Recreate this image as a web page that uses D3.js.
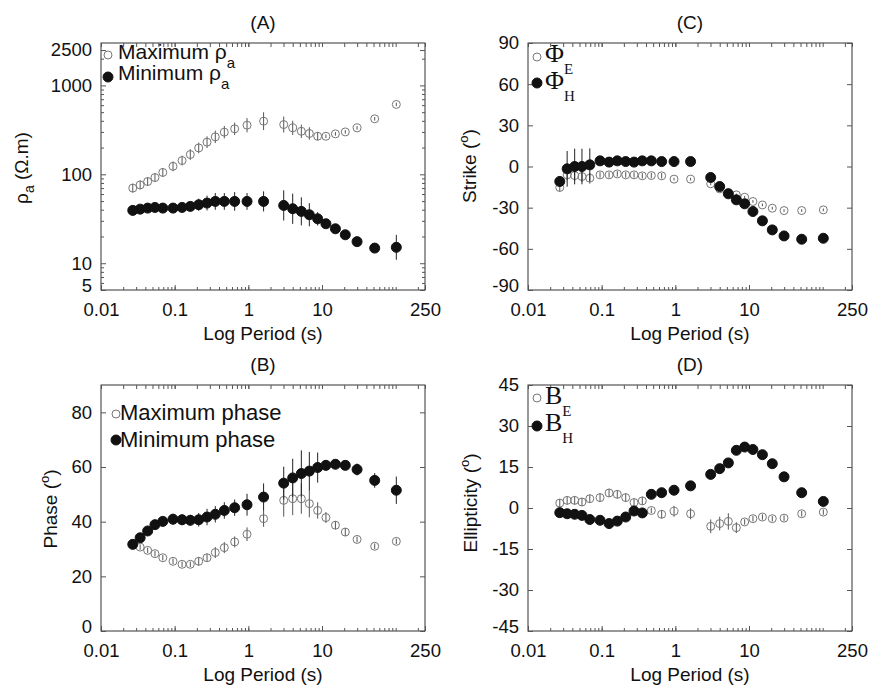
<!DOCTYPE html>
<html>
<head>
<meta charset="utf-8">
<script src="https://cdn.jsdelivr.net/npm/d3@7"></script>
<style>
  body { margin: 0; background: #fff; }
  text { font-family: "Liberation Sans", Arial, sans-serif; fill: #111; }
  .serif { font-family: "Liberation Serif", "Times New Roman", serif; }
</style>
</head>
<body>
<svg id="chart" width="871" height="686"></svg>
<script>
// Periods (s) shared by all four panels
const periods = [0.027, 0.034, 0.043, 0.054, 0.069, 0.095, 0.126, 0.163, 0.212, 0.275, 0.356, 0.472, 0.652,
  0.96, 1.61, 3.02, 4.0, 5.24, 6.73, 8.73, 11.3, 15.2, 20.7, 29.9, 51.9, 102];

// (A) apparent resistivity, errors in log10 decades
const rhoMax = [70, 76, 83, 92, 105, 123, 143, 167, 198, 230, 264, 298, 325, 357, 396, 363, 333, 305, 288, 268,
  268, 285, 300, 333, 421, 611];
const rhoMaxErr = [0.05, 0.05, 0.05, 0.05, 0.05, 0.055, 0.055, 0.06, 0.06, 0.065, 0.07, 0.07, 0.07, 0.08, 0.1,
  0.09, 0.08, 0.075, 0.07, 0.045, 0.02, 0.02, 0.02, 0.02, 0.02, 0.02];
const rhoMin = [39.3, 40.6, 41.7, 42.4, 41.7, 41.7, 42.4, 43.6, 45.5, 47.5, 49.6, 49.6, 49.6, 49.6, 49.6, 44.7,
  41.0, 38.3, 35.1, 31.6, 27.8, 24.4, 20.9, 17.5, 14.8, 15.1];
const rhoMinErr = [0.056, 0.045, 0.045, 0.045, 0.038, 0.045, 0.045, 0.053, 0.068, 0.083, 0.094, 0.094, 0.105,
  0.094, 0.113, 0.17, 0.17, 0.158, 0.13, 0.075, 0.03, 0.02, 0.02, 0.02, 0.02, 0.14];

// (B) phase in degrees
const phaseMax = [31.7, 30.7, 29.5, 28.3, 26.8, 25.5, 24.4, 24.4, 25.5, 26.8, 28.7, 30.5, 32.6, 35.4, 41.1, 47.8,
  48.4, 48.4, 46.6, 44.1, 41.5, 38.7, 36.2, 33.5, 31.0, 32.8];
const phaseMaxErr = [1, 1, 1, 1, 1, 1, 1, 1, 1.5, 1.5, 2, 2, 2, 2.5, 3, 6, 6, 5.5, 5, 3, 2, 1.5, 1.5, 1, 1, 1];
const phaseMin = [31.7, 34.1, 36.6, 38.9, 40.1, 40.9, 40.7, 40.5, 40.7, 41.7, 42.7, 44.1, 45.1, 46.2, 49.0, 54.1,
  56.0, 57.6, 58.5, 59.8, 60.6, 61.0, 60.6, 59.1, 55.1, 51.5];
const phaseMinErr = [1, 1.5, 1.5, 1.5, 1.5, 2, 2, 2, 2.5, 3, 3, 3, 3, 4, 5, 6, 7, 8.5, 7, 5.5, 2, 1.5, 1.5, 2.2, 2.7, 5];

// (C) strike in degrees
const strikeE = [-15.3, -6.1, -6.6, -7.3, -8.5, -6.1, -6.1, -5.4, -6.1, -6.1, -6.8, -6.6, -6.8, -9.2, -9.2, -12.6,
  -16.3, -19.0, -20.7, -22.4, -25.5, -28.0, -30.4, -32.1, -32.1, -31.6];
const strikeEErr = [3, 4, 4, 4, 4, 2, 2, 2, 2, 2, 2, 2, 2, 1, 1, 1, 1, 1, 1, 1, 1, 1, 1, 1, 1, 1];
const strikeH = [-10.9, -1.7, 0, 0, 1.2, 4.1, 3.2, 4.1, 3.6, 3.2, 4.1, 4.1, 3.6, 3.6, 3.6, -8.0, -14.6, -19.9,
  -24.3, -27.2, -32.8, -39.6, -46.2, -50.6, -53.0, -52.3];
const strikeHErr = [4, 13, 13, 13, 12, 1, 1, 1, 1, 1, 1, 1, 1, 1, 1, 1, 1, 1, 1, 1, 1, 1, 1, 1, 1, 1];

// (D) ellipticity in degrees
const ellipE = [1.8, 2.8, 2.8, 2.2, 3.4, 3.8, 5.5, 5.0, 3.8, 2.0, 2.6, -0.9, -2.3, -1.2, -2.1, -6.7, -5.7, -4.9,
  -7.2, -5.1, -3.9, -3.3, -3.9, -3.7, -2.1, -1.5];
const ellipEErr = [1.5, 1.5, 1.5, 1.5, 1.5, 1.5, 1.5, 1.5, 1.5, 1.5, 1.5, 1, 1.5, 2, 2, 2.5, 2.5, 3, 2, 1, 1, 1,
  1, 1, 1, 1];
const ellipH = [-1.7, -2.1, -2.3, -2.7, -4.2, -4.5, -5.7, -4.8, -3.3, -1.1, -1.8, 5.0, 5.6, 6.5, 8.1, 12.3, 14.4,
  16.5, 21.1, 22.3, 21.4, 19.5, 16.2, 11.4, 5.6, 2.4];

// Tick labels
const xTicks = [0.01, 0.1, 1, 10, 250];
const rhoTicks = [5, 10, 100, 1000, 2500];
const phaseTicks = [0, 20, 40, 60, 80];
const strikeTicks = [-90, -60, -30, 0, 30, 60, 90];
const ellipTicks = [-45, -30, -15, 0, 15, 30, 45];

const svg = d3.select('#chart');
svg.append('rect').attr('width', 871).attr('height', 686).attr('fill', '#fff');

// minor ticks for a log axis between lo and hi
function logMinor(lo, hi) {
  const out = [];
  for (let p = Math.floor(Math.log10(lo)); p <= Math.ceil(Math.log10(hi)); p++) {
    for (let m = 1; m <= 9; m++) {
      const v = m * Math.pow(10, p);
      if (v > lo && v < hi) out.push(v);
    }
  }
  return out;
}

function drawPanel(cfg) {
  const g = svg.append('g');
  const x = d3.scaleLog().domain([0.01, 250]).range([cfg.left, cfg.right]);
  const y = cfg.y;

  // frame
  g.append('rect')
    .attr('x', cfg.left).attr('y', cfg.top)
    .attr('width', cfg.right - cfg.left).attr('height', cfg.bottom - cfg.top)
    .attr('fill', 'none').attr('stroke', '#333').attr('stroke-width', 1);

  // x axis (labels + inward ticks), bottom and top
  const xMinor = logMinor(0.01, 250);
  g.append('g').attr('transform', `translate(0,${cfg.bottom})`)
    .call(d3.axisBottom(x).tickValues(xTicks).tickSize(-5).tickPadding(13).tickFormat(d => String(d)));
  g.append('g').attr('transform', `translate(0,${cfg.bottom})`)
    .call(d3.axisBottom(x).tickValues(xMinor).tickSize(-3).tickFormat(''));
  g.append('g').attr('transform', `translate(0,${cfg.top})`)
    .call(d3.axisTop(x).tickValues(xTicks.concat(xMinor)).tickSize(-4).tickFormat(''));

  // y axis left (labels) and right
  const yl = g.append('g').attr('transform', `translate(${cfg.left},0)`)
    .call(d3.axisLeft(y).tickValues(cfg.yTicks).tickSize(-5).tickPadding(9).tickFormat(d => String(d)));
  // the lowest label sits a little higher, as in the source figure
  yl.selectAll('.tick text').filter(d => d === cfg.yTicks[0]).attr('dy', '0.1em');
  g.append('g').attr('transform', `translate(${cfg.right},0)`)
    .call(d3.axisRight(y).tickValues(cfg.yTicks).tickSize(-5).tickFormat(''));
  if (cfg.yMinor) {
    g.append('g').attr('transform', `translate(${cfg.left},0)`)
      .call(d3.axisLeft(y).tickValues(cfg.yMinor).tickSize(-3).tickFormat(''));
    g.append('g').attr('transform', `translate(${cfg.right},0)`)
      .call(d3.axisRight(y).tickValues(cfg.yMinor).tickSize(-3).tickFormat(''));
  }
  g.selectAll('.domain').remove();
  g.selectAll('.tick line').attr('stroke', '#555');
  g.selectAll('.tick text').style('font-size', '18.5px').attr('fill', '#111');

  // title and x label
  const cx = (cfg.left + cfg.right) / 2;
  g.append('text').attr('x', cx).attr('y', cfg.top - 14)
    .attr('text-anchor', 'middle').style('font-size', '19px').text(cfg.title);
  g.append('text').attr('x', cx).attr('y', cfg.bottom + 50)
    .attr('text-anchor', 'middle').style('font-size', '19px').text('Log Period (s)');

  // series: open first, filled on top
  cfg.series.forEach(s => {
    const pts = periods.map((p, i) => ({ p, v: s.values[i], e: s.err ? s.err[i] : 0 }));
    g.selectAll(null).data(pts.filter(d => d.e > 0)).enter().append('line')
      .attr('x1', d => x(d.p)).attr('x2', d => x(d.p))
      .attr('y1', d => y(s.lo(d.v, d.e))).attr('y2', d => y(s.hi(d.v, d.e)))
      .attr('stroke', s.filled ? '#222' : '#555').attr('stroke-width', 1);
    g.selectAll(null).data(pts).enter().append('circle')
      .attr('cx', d => x(d.p)).attr('cy', d => y(d.v))
      .attr('r', s.filled ? 5 : 4)
      .attr('fill', s.filled ? '#111' : 'none')
      .attr('stroke', s.filled ? '#111' : '#777')
      .attr('stroke-width', 1);
  });
  return g;
}

const linErr = { lo: (v, e) => v - e, hi: (v, e) => v + e };
const logErr = { lo: (v, e) => v / Math.pow(10, e), hi: (v, e) => v * Math.pow(10, e) };

// (A)
drawPanel({
  left: 101, right: 425, top: 43, bottom: 290, title: '(A)',
  y: d3.scaleLog().domain([5, 3000]).range([290, 43]),
  yTicks: rhoTicks, yMinor: logMinor(5, 3000).filter(v => rhoTicks.indexOf(v) < 0),
  series: [
    Object.assign({ values: rhoMax, err: rhoMaxErr, filled: false }, logErr),
    Object.assign({ values: rhoMin, err: rhoMinErr, filled: true }, logErr)
  ]
});

// (C)
drawPanel({
  left: 528, right: 852, top: 43, bottom: 290, title: '(C)',
  y: d3.scaleLinear().domain([-90, 90]).range([290, 43]),
  yTicks: strikeTicks,
  series: [
    Object.assign({ values: strikeE, err: strikeEErr, filled: false }, linErr),
    Object.assign({ values: strikeH, err: strikeHErr, filled: true }, linErr)
  ]
});

// (B)
drawPanel({
  left: 101, right: 425, top: 385, bottom: 631, title: '(B)',
  y: d3.scaleLinear().domain([0, 90]).range([631, 385]),
  yTicks: phaseTicks,
  series: [
    Object.assign({ values: phaseMax, err: phaseMaxErr, filled: false }, linErr),
    Object.assign({ values: phaseMin, err: phaseMinErr, filled: true }, linErr)
  ]
});

// (D)
drawPanel({
  left: 528, right: 852, top: 385, bottom: 631, title: '(D)',
  y: d3.scaleLinear().domain([-45, 45]).range([631, 385]),
  yTicks: ellipTicks,
  series: [
    Object.assign({ values: ellipE, err: ellipEErr, filled: false }, linErr),
    Object.assign({ values: ellipH, err: null, filled: true }, linErr)
  ]
});

// y axis labels (rotated), degree sign drawn as raised "o"
function yLabel(x, y, parts) {
  const t = svg.append('text')
    .attr('transform', `translate(${x},${y}) rotate(-90)`)
    .attr('text-anchor', 'middle').style('font-size', '19px');
  parts.forEach(p => {
    t.append('tspan').attr('dy', p.dy || 0).style('font-size', p.size || '19px').text(p.t);
  });
}
yLabel(28, 168, [{ t: 'ρ' }, { t: 'a', dy: 6, size: '14px' }, { t: ' (Ω.m)', dy: -6 }]);
yLabel(476, 166, [{ t: 'Strike (' }, { t: 'o', dy: -8, size: '13px' }, { t: ')', dy: 8 }]);
yLabel(57, 509, [{ t: 'Phase (' }, { t: 'o', dy: -8, size: '13px' }, { t: ')', dy: 8 }]);
yLabel(477, 503, [{ t: 'Ellipticity (' }, { t: 'o', dy: -8, size: '13px' }, { t: ')', dy: 8 }]);

// legends
function legendMarker(x, y, filled) {
  svg.append('circle').attr('cx', x).attr('cy', y).attr('r', filled ? 5 : 4)
    .attr('fill', filled ? '#111' : 'none').attr('stroke', filled ? '#111' : '#777');
}

// (A) legend
legendMarker(108, 55, false);
legendMarker(108, 77, true);
[['Maximum ρ', 59], ['Minimum ρ', 80]].forEach(([label, by]) => {
  const t = svg.append('text').attr('x', 118).attr('y', by).style('font-size', '21px');
  t.append('tspan').text(label);
  t.append('tspan').attr('dy', 9).style('font-size', '15px').text('a');
});

// (B) legend
legendMarker(116, 414, false);
legendMarker(116, 440, true);
svg.append('text').attr('x', 120).attr('y', 420).style('font-size', '22px').text('Maximum phase');
svg.append('text').attr('x', 120).attr('y', 447).style('font-size', '22px').text('Minimum phase');

// (C) and (D) legends in serif
function serifLegend(x, y, sym, sub) {
  const t = svg.append('text').attr('class', 'serif').attr('x', x).attr('y', y).style('font-size', '26px');
  t.append('tspan').text(sym);
  t.append('tspan').attr('dy', 12).style('font-size', '15px').text(sub);
}
legendMarker(537, 57, false);
legendMarker(537, 83, true);
serifLegend(545, 62, 'Φ', 'E');
serifLegend(545, 89, 'Φ', 'H');

legendMarker(537, 398, false);
legendMarker(537, 426, true);
serifLegend(545, 404, 'B', 'E');
serifLegend(545, 431, 'B', 'H');
</script>
</body>
</html>
